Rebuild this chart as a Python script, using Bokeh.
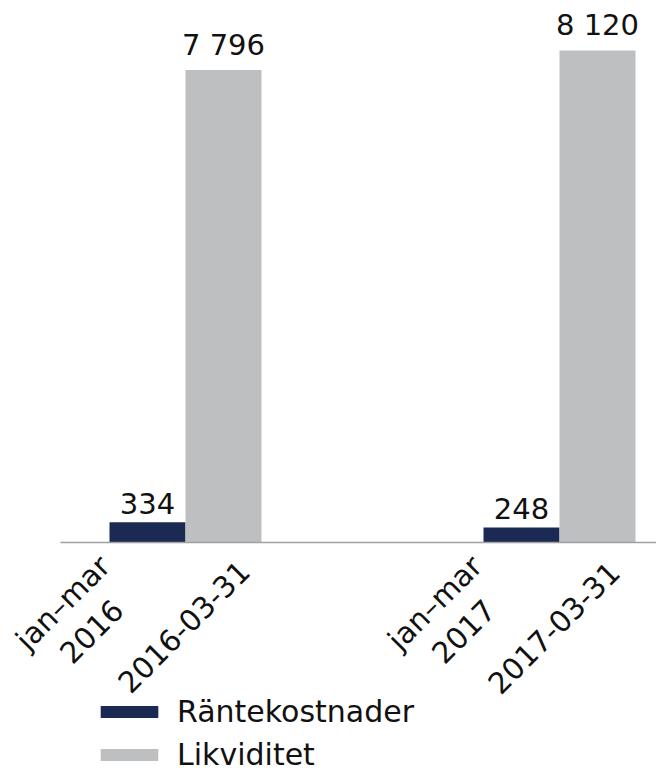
import math
from bokeh.plotting import figure
from bokeh.models import ColumnDataSource, Range1d, Legend, LegendItem
from bokeh.embed import file_html
from bokeh.resources import INLINE
from bokeh.core.properties import value

# ---- data ----
periods = ["2016", "2017"]
tick_labels = ["jan–mar\n2016", "2016-03-31", "jan–mar\n2017", "2017-03-31"]
rantekostnader = [334, 248]
likviditet = [7796, 8120]
series_names = ["Räntekostnader", "Likviditet"]

NAVY = "#1b2a52"
GRAY = "#bebfc1"
FONT = "DejaVu Sans"
TXT = "#111111"

def fmt(v):
    return f"{v:,}".replace(",", " ")

# ---- layout (bar width = 1 unit = 76 px) ----
PX = 76.0
group_gap = 374 / PX
group_x = [i * group_gap for i in range(len(periods))]
x_r = [g + 0.5 for g in group_x]
x_l = [g + 1.5 for g in group_x]

x_start = 0.5 - 147 / PX
x_end = x_start + 656 / PX
ppu = 0.0606                      # pixels per value unit
y_end = 542 / ppu
y_start = -(772 - 542) / ppu

src_r = ColumnDataSource(dict(x=x_r, top=rantekostnader, lab=[fmt(v) for v in rantekostnader]))
src_l = ColumnDataSource(dict(x=x_l, top=likviditet, lab=[fmt(v) for v in likviditet]))

p = figure(width=656, height=772, output_backend="svg", toolbar_location=None,
           x_range=Range1d(x_start, x_end), y_range=Range1d(y_start, y_end),
           min_border=0)
p.axis.visible = False
p.grid.grid_line_color = None
p.outline_line_color = None

r1 = p.vbar(x="x", top="top", width=1.0, bottom=0, source=src_r, color=NAVY, line_color=None)
r2 = p.vbar(x="x", top="top", width=1.0, bottom=0, source=src_l, color=GRAY, line_color=None)

# baseline (category axis line)
p.segment(x0=[x_start + 60 / PX], y0=[0], x1=[x_end], y1=[0], line_color="#a0a0a0", line_width=1.5)

for src in (src_r, src_l):
    p.text(x="x", y="top", text="lab", source=src, text_align="center", text_baseline="bottom",
           y_offset=-8, text_font=value(FONT), text_font_size="29px", text_color=TXT)

# rotated category labels
tick_x = []
for a, b in zip(x_r, x_l):
    tick_x += [a, b]
lab_src = ColumnDataSource(dict(
    x=tick_x,
    y=[0] * len(tick_x),
    text=tick_labels,
    xo=[-70, -40, -72, -44],
    yo=[75, 84, 75, 85],
))
p.text(x="x", y="y", text="text", source=lab_src, x_offset="xo", y_offset="yo",
       angle=math.pi / 4, text_align="center", text_baseline="middle", text_line_height=1.2,
       text_font=value(FONT), text_font_size="29.5px", text_color=TXT)

legend = Legend(items=[LegendItem(label=series_names[0], renderers=[r1]),
                       LegendItem(label=series_names[1], renderers=[r2])],
                location=(93, 0), padding=0, spacing=8, margin=0,
                glyph_width=72, glyph_height=15, label_standoff=12,
                label_text_font=FONT, label_text_font_size="30px", label_text_color=TXT,
                border_line_color=None, background_fill_alpha=0)
p.add_layout(legend, "center")

open("out.html", "w").write(file_html(p, INLINE))
